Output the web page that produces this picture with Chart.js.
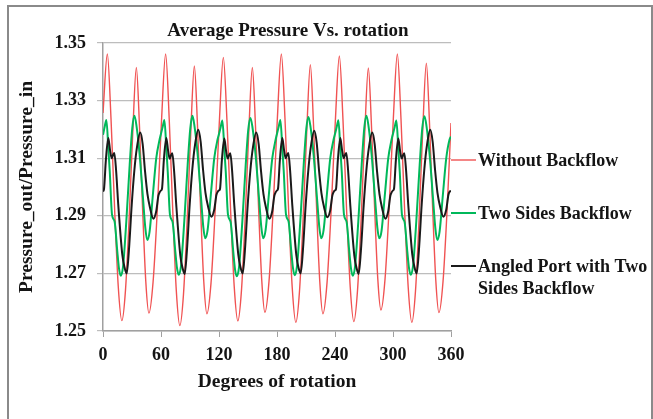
<!DOCTYPE html>
<html lang="en">
<head>
  <meta charset="UTF-8">
  <title>Average Pressure Vs. rotation</title>
  <script src="https://cdn.jsdelivr.net/npm/chart.js"></script>
  <style>
    * { box-sizing: border-box; margin: 0; padding: 0; }
    body { background: #fff; width: 653px; height: 419px; overflow: hidden; position: relative; }
    #chart { position: absolute; left: 0; top: 0; }
    .frame {
      position: absolute; left: 7px; top: 5px; width: 646px; height: 430px;
      border: 2px solid #8a8a8a; pointer-events: none;
    }
  </style>
</head>
<body>
  <canvas id="chart" width="653" height="419"></canvas>
  <div class="frame"></div>

  <script>
    // text
    const chartTitle = 'Average Pressure Vs. rotation';
    const xTitle = 'Degrees of rotation';
    const yTitle = 'Pressure_out/Pressure_in';
    const seriesNames = ['Without Backflow', 'Two Sides Backflow', 'Angled Port with Two Sides Backflow'];
    const legendLines = [['Without Backflow'], ['Two Sides Backflow'], ['Angled Port with Two', 'Sides Backflow']];

    // axis ticks
    const xTicks = [0, 60, 120, 180, 240, 300, 360];
    const yTicks = [1.25, 1.27, 1.29, 1.31, 1.33, 1.35];

    // Without Backflow
    const redX = [0, 4.5, 8.25, 12, 15.75, 19.5, 23.25, 27, 30.75, 34.5, 37.75, 41, 44.25, 47.5, 51.8, 56.2, 60.5,
      64.8, 68.5, 72.2, 75.8, 79.5, 83.25, 87, 90.75, 94.5, 97.75, 101, 104.25, 107.5, 111.75, 116, 120.25,
      124.5, 128.25, 132, 135.75, 139.5, 143.25, 147, 150.75, 154.5, 157.75, 161, 164.25, 167.5, 171.75, 176, 180.25,
      184.5, 188.25, 192, 195.75, 199.5, 203.25, 207, 210.75, 214.5, 217.75, 221, 224.25, 227.5, 231.75, 236, 240.25,
      244.5, 248.25, 252, 255.75, 259.5, 263.25, 267, 270.75, 274.5, 277.75, 281, 284.25, 287.5, 291.75, 296, 300.25,
      304.5, 308.25, 312, 315.75, 319.5, 323.25, 327, 330.75, 334.5, 337.75, 341, 344.25, 347.5, 351.75, 356, 360];
    const redY = [1.3257, 1.3462, 1.3240, 1.2925, 1.2656, 1.2536, 1.2641, 1.2888, 1.3186, 1.3415, 1.3210, 1.2920, 1.2673, 1.2562, 1.2670, 1.2922, 1.3228,
      1.3462, 1.3236, 1.2915, 1.2642, 1.2519, 1.2627, 1.2879, 1.3186, 1.3420, 1.3214, 1.2921, 1.2672, 1.2560, 1.2667, 1.2916, 1.3219,
      1.3450, 1.3230, 1.2919, 1.2654, 1.2535, 1.2641, 1.2887, 1.3186, 1.3415, 1.3211, 1.2922, 1.2675, 1.2565, 1.2673, 1.2924, 1.3229,
      1.3462, 1.3238, 1.2921, 1.2651, 1.2530, 1.2637, 1.2888, 1.3192, 1.3425, 1.3217, 1.2923, 1.2672, 1.2560, 1.2667, 1.2918, 1.3222,
      1.3455, 1.3234, 1.2920, 1.2653, 1.2533, 1.2639, 1.2885, 1.3184, 1.3413, 1.3211, 1.2926, 1.2682, 1.2573, 1.2680, 1.2929, 1.3231,
      1.3462, 1.3238, 1.2921, 1.2651, 1.2530, 1.2638, 1.2890, 1.3196, 1.3430, 1.3222, 1.2928, 1.2677, 1.2564, 1.2672, 1.2924, 1.3222];

    // Two Sides Backflow
    const greenX = [0, 1.8, 3.5, 5.5, 7, 9.3, 12, 14.8, 16.5, 18.3, 20.7, 24.1, 27.6, 30.3, 32.5, 34.5, 37.9, 41.4, 43.8, 45.8, 48.2, 51.6, 55.1, 58.5,
      60, 61.8, 63.5, 65.5, 67, 69.3, 72, 74.8, 76.5, 78.3, 80.7, 84.1, 87.6, 90.3, 92.5, 94.5, 97.9, 101.4, 103.8, 105.8, 108.2, 111.6, 115.1, 118.5,
      120, 121.8, 123.5, 125.5, 127, 129.3, 132, 134.8, 136.5, 138.3, 140.7, 144.1, 147.6, 150.3, 152.5, 154.5, 157.9, 161.4, 163.8, 165.8, 168.2, 171.6, 175.1, 178.5,
      180, 181.8, 183.5, 185.5, 187, 189.3, 192, 194.8, 196.5, 198.3, 200.7, 204.1, 207.6, 210.3, 212.5, 214.5, 217.9, 221.4, 223.8, 225.8, 228.2, 231.6, 235.1, 238.5,
      240, 241.8, 243.5, 245.5, 247, 249.3, 252, 254.8, 256.5, 258.3, 260.7, 264.1, 267.6, 270.3, 272.5, 274.5, 277.9, 281.4, 283.8, 285.8, 288.2, 291.6, 295.1, 298.5,
      300, 301.8, 303.5, 305.5, 307, 309.3, 312, 314.8, 316.5, 318.3, 320.7, 324.1, 327.6, 330.3, 332.5, 334.5, 337.9, 341.4, 343.8, 345.8, 348.2, 351.6, 355.1, 358.5,
      360];
    const greenY = [1.3181, 1.3210, 1.3233, 1.3135, 1.3054, 1.2905, 1.2880, 1.2776, 1.2718, 1.2692, 1.2723, 1.2880, 1.3077, 1.3205, 1.3247, 1.3216, 1.3112, 1.2960, 1.2857, 1.2816, 1.2845, 1.2973, 1.3100, 1.3164,
      1.3185, 1.3210, 1.3233, 1.3136, 1.3052, 1.2903, 1.2878, 1.2776, 1.2720, 1.2695, 1.2726, 1.2882, 1.3078, 1.3204, 1.3247, 1.3215, 1.3113, 1.2962, 1.2860, 1.2822, 1.2850, 1.2975, 1.3100, 1.3165,
      1.3184, 1.3209, 1.3231, 1.3133, 1.3053, 1.2904, 1.2879, 1.2774, 1.2716, 1.2690, 1.2721, 1.2879, 1.3075, 1.3200, 1.3240, 1.3210, 1.3110, 1.2961, 1.2860, 1.2822, 1.2850, 1.2974, 1.3099, 1.3163,
      1.3185, 1.3210, 1.3233, 1.3135, 1.3054, 1.2905, 1.2880, 1.2776, 1.2719, 1.2694, 1.2725, 1.2881, 1.3076, 1.3202, 1.3243, 1.3213, 1.3111, 1.2961, 1.2860, 1.2822, 1.2850, 1.2974, 1.3100, 1.3164,
      1.3184, 1.3209, 1.3232, 1.3134, 1.3053, 1.2904, 1.2879, 1.2775, 1.2718, 1.2692, 1.2723, 1.2880, 1.3077, 1.3205, 1.3247, 1.3216, 1.3112, 1.2961, 1.2859, 1.2822, 1.2849, 1.2974, 1.3100, 1.3164,
      1.3185, 1.3209, 1.3231, 1.3133, 1.3052, 1.2903, 1.2878, 1.2776, 1.2720, 1.2695, 1.2725, 1.2881, 1.3077, 1.3205, 1.3246, 1.3215, 1.3112, 1.2960, 1.2857, 1.2816, 1.2845, 1.2973, 1.3100, 1.3165,
      1.3175];

    // Angled Port with Two Sides Backflow
    const blackX = [0, 1, 3, 5.5, 7.3, 9, 10.5, 11.7, 13.5, 15.8, 20, 22.5, 24.5, 26.8, 29.7, 32.5, 35, 38.5, 41, 43.5, 46, 48.7, 52, 55, 57.3, 59,
      60, 61, 63, 65.5, 67.3, 69, 70.5, 71.7, 73.5, 75.8, 80, 82.5, 84.5, 86.8, 89.7, 92.5, 95, 98.5, 101, 103.5, 106, 108.7, 112, 115, 117.3, 119,
      120, 121, 123, 125.5, 127.3, 129, 130.5, 131.7, 133.5, 135.8, 140, 142.5, 144.5, 146.8, 149.7, 152.5, 155, 158.5, 161, 163.5, 166, 168.7, 172, 175, 177.3, 179,
      180, 181, 183, 185.5, 187.3, 189, 190.5, 191.7, 193.5, 195.8, 200, 202.5, 204.5, 206.8, 209.7, 212.5, 215, 218.5, 221, 223.5, 226, 228.7, 232, 235, 237.3, 239,
      240, 241, 243, 245.5, 247.3, 249, 250.5, 251.7, 253.5, 255.8, 260, 262.5, 264.5, 266.8, 269.7, 272.5, 275, 278.5, 281, 283.5, 286, 288.7, 292, 295, 297.3, 299,
      300, 301, 303, 305.5, 307.3, 309, 310.5, 311.7, 313.5, 315.8, 320, 322.5, 324.5, 326.8, 329.7, 332.5, 335, 338.5, 341, 343.5, 346, 348.7, 352, 355, 357.3, 359,
      360];
    const blackY = [1.2984, 1.2992, 1.3095, 1.3170, 1.3128, 1.3100, 1.3112, 1.3118, 1.3060, 1.2938, 1.2764, 1.2718, 1.2700, 1.2780, 1.2938, 1.3060, 1.3135, 1.3189, 1.3150, 1.3054, 1.2975, 1.2927, 1.2890, 1.2915, 1.2970, 1.2984,
      1.2988, 1.2993, 1.3096, 1.3170, 1.3127, 1.3098, 1.3111, 1.3117, 1.3058, 1.2937, 1.2762, 1.2716, 1.2698, 1.2779, 1.2940, 1.3065, 1.3142, 1.3199, 1.3158, 1.3060, 1.2980, 1.2932, 1.2897, 1.2920, 1.2972, 1.2985,
      1.2988, 1.2992, 1.3094, 1.3168, 1.3126, 1.3099, 1.3111, 1.3117, 1.3059, 1.2938, 1.2764, 1.2718, 1.2700, 1.2780, 1.2938, 1.3060, 1.3135, 1.3189, 1.3150, 1.3054, 1.2975, 1.2927, 1.2890, 1.2915, 1.2970, 1.2984,
      1.2988, 1.2993, 1.3095, 1.3170, 1.3128, 1.3100, 1.3112, 1.3118, 1.3060, 1.2938, 1.2763, 1.2717, 1.2700, 1.2780, 1.2939, 1.3062, 1.3139, 1.3195, 1.3155, 1.3057, 1.2978, 1.2930, 1.2895, 1.2918, 1.2971, 1.2985,
      1.2988, 1.2992, 1.3095, 1.3170, 1.3128, 1.3100, 1.3112, 1.3118, 1.3060, 1.2938, 1.2762, 1.2716, 1.2698, 1.2779, 1.2938, 1.3060, 1.3135, 1.3189, 1.3150, 1.3054, 1.2975, 1.2927, 1.2890, 1.2915, 1.2970, 1.2984,
      1.2988, 1.2993, 1.3094, 1.3168, 1.3126, 1.3099, 1.3111, 1.3117, 1.3059, 1.2938, 1.2764, 1.2718, 1.2700, 1.2780, 1.2940, 1.3065, 1.3142, 1.3199, 1.3158, 1.3060, 1.2980, 1.2932, 1.2897, 1.2920, 1.2972, 1.2985,
      1.2985];

    const colors = ['#f05252', '#00b85a', '#1a1a1a'];
    const widths = [1.4, 2, 2];
    const FONT = '"Liberation Serif", "Times New Roman", serif';
    const TEXT = '#141414';

    const toPoints = (xs, ys) => xs.map((x, i) => ({ x: x, y: ys[i] }));

    // title + right-hand legend drawn by hand, like the Excel original
    const overlay = {
      id: 'overlay',
      afterDraw(chart) {
        const ctx = chart.ctx;
        const area = chart.chartArea;
        ctx.save();
        ctx.fillStyle = TEXT;
        ctx.font = 'bold 19px ' + FONT;
        ctx.textAlign = 'center';
        ctx.textBaseline = 'alphabetic';
        ctx.fillText(chartTitle, 288, 36);

        const lineY = [160, 213, 266];
        const x0 = area.right;
        ctx.font = 'bold 18px ' + FONT;
        ctx.textAlign = 'left';
        legendLines.forEach((rows, i) => {
          ctx.strokeStyle = colors[i];
          ctx.lineWidth = widths[i];
          ctx.beginPath();
          ctx.moveTo(x0, lineY[i]);
          ctx.lineTo(x0 + 25, lineY[i]);
          ctx.stroke();
          rows.forEach((t, j) => {
            ctx.fillText(t, x0 + 27, lineY[i] + 6 + j * 21.5);
          });
        });
        ctx.restore();
      }
    };

    const ctx = document.getElementById('chart').getContext('2d');
    new Chart(ctx, {
      type: 'line',
      data: {
        datasets: [
          { label: seriesNames[0], data: toPoints(redX, redY), order: 2 },
          { label: seriesNames[1], data: toPoints(greenX, greenY), order: 1 },
          { label: seriesNames[2], data: toPoints(blackX, blackY), order: 0 }
        ].map((d, i) => Object.assign(d, {
          borderColor: colors[i],
          borderWidth: widths[i],
          pointRadius: 0,
          fill: false,
          cubicInterpolationMode: 'monotone'
        }))
      },
      options: {
        responsive: false,
        animation: false,
        devicePixelRatio: 1,
        layout: { padding: { top: 43, right: 202, bottom: 0, left: 0 } },
        plugins: { legend: { display: false }, tooltip: { enabled: false } },
        scales: {
          x: {
            type: 'linear',
            min: 0,
            max: 360,
            afterFit(s) { s.height = 88; },
            afterBuildTicks(s) { s.ticks = xTicks.map(v => ({ value: v })); },
            ticks: { color: TEXT, padding: 8, font: { family: FONT, size: 18, weight: 'bold' } },
            grid: { drawOnChartArea: false, color: '#a0a0a0', tickLength: 6 },
            border: { color: '#a0a0a0', width: 1.5 },
            title: {
              display: true, text: xTitle, color: TEXT,
              font: { family: FONT, size: 19.5, weight: 'bold' },
              padding: { top: 0, bottom: 25 }
            }
          },
          y: {
            min: 1.25,
            max: 1.35,
            afterFit(s) { s.width = 103; },
            afterBuildTicks(s) { s.ticks = yTicks.map(v => ({ value: v })); },
            ticks: {
              color: TEXT, padding: 11,
              font: { family: FONT, size: 18, weight: 'bold' },
              callback: v => v.toFixed(2)
            },
            grid: { color: '#bdbdbd', lineWidth: 1.2, tickLength: 6 },
            border: { color: '#a0a0a0', width: 1.5 },
            title: {
              display: true, text: yTitle, color: TEXT,
              font: { family: FONT, size: 19.5, weight: 'bold' },
              padding: { top: 15, bottom: 0 }
            }
          }
        }
      },
      plugins: [overlay]
    });
  </script>
</body>
</html>
